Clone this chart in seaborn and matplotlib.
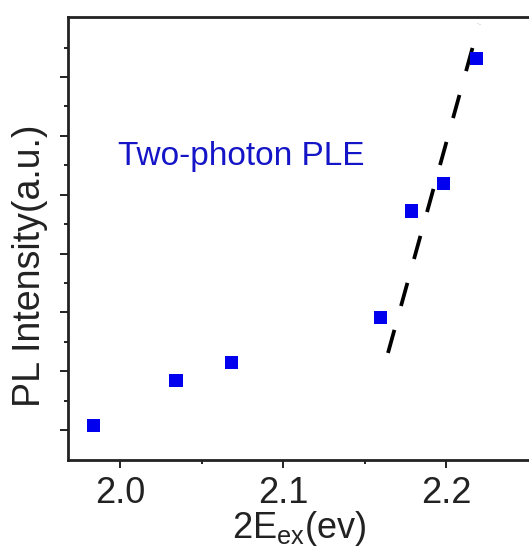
import matplotlib
matplotlib.use("Agg")
import matplotlib.pyplot as plt
import seaborn as sns
import pandas as pd

# data
energy = [1.9835, 2.0343, 2.0684, 2.1598, 2.1789, 2.1982, 2.2187]
intensity = [0.073, 0.838, 1.144, 1.909, 3.723, 4.193, 6.318]
fit_x = [2.1643, 2.2202]
fit_y = [1.309, 6.901]
xticks = [2.0, 2.1, 2.2]
xtick_labels = ["2.0", "2.1", "2.2"]

sns.set_style("ticks")
plt.rcParams["font.family"] = ["Liberation Sans", "DejaVu Sans"]
plt.rcParams["mathtext.fontset"] = "custom"
plt.rcParams["mathtext.rm"] = "Liberation Sans"

fig = plt.figure(figsize=(5.29, 5.49), dpi=100)
ax = fig.add_axes([68 / 529, 89 / 549, 476 / 529, 443 / 549])

df = pd.DataFrame({"E": energy, "I": intensity})
fit = pd.DataFrame({"E": fit_x, "I": fit_y})

sns.lineplot(data=fit, x="E", y="I", ax=ax, color="black", lw=2.7,
             linestyle=(0, (6.4, 6.6)), sort=False)
sns.scatterplot(data=df, x="E", y="I", ax=ax, marker="s", s=90,
                color="#0000ee", edgecolor="none", zorder=3)

ax.set_xlim(1.968, 2.26)
ax.set_ylim(-0.51, 7.02)
ax.set_xticks(xticks)
ax.set_xticklabels(xtick_labels)
ax.set_xticks([2.05, 2.15], minor=True)
ax.set_yticks(range(0, 7))
ax.set_yticks([0.5 + i for i in range(7)], minor=True)
ax.set_yticklabels([])

for s in ax.spines.values():
    s.set_linewidth(2.0)
    s.set_color("#222222")

ax.tick_params(axis="both", which="major", direction="out", length=5.5,
               width=1.4, color="#222222", labelsize=26, pad=6,
               labelcolor="#222222")
ax.tick_params(axis="both", which="minor", direction="out", length=3,
               width=1.4, color="#222222")

ax.set_xlabel(r"2E$_\mathregular{ex}$(ev)", fontsize=26, color="#222222")
ax.xaxis.set_label_coords(0.485, -49 / 443)
ax.set_ylabel("PL Intensity(a.u.)", fontsize=27, color="#222222")
ax.yaxis.set_label_coords(-20 / 476, 0.438)

ax.text(1.9987, 4.50, "Two-photon PLE", color="#1515c8", fontsize=24,
        va="baseline", ha="left")

fig.savefig("out.png", dpi=100)
